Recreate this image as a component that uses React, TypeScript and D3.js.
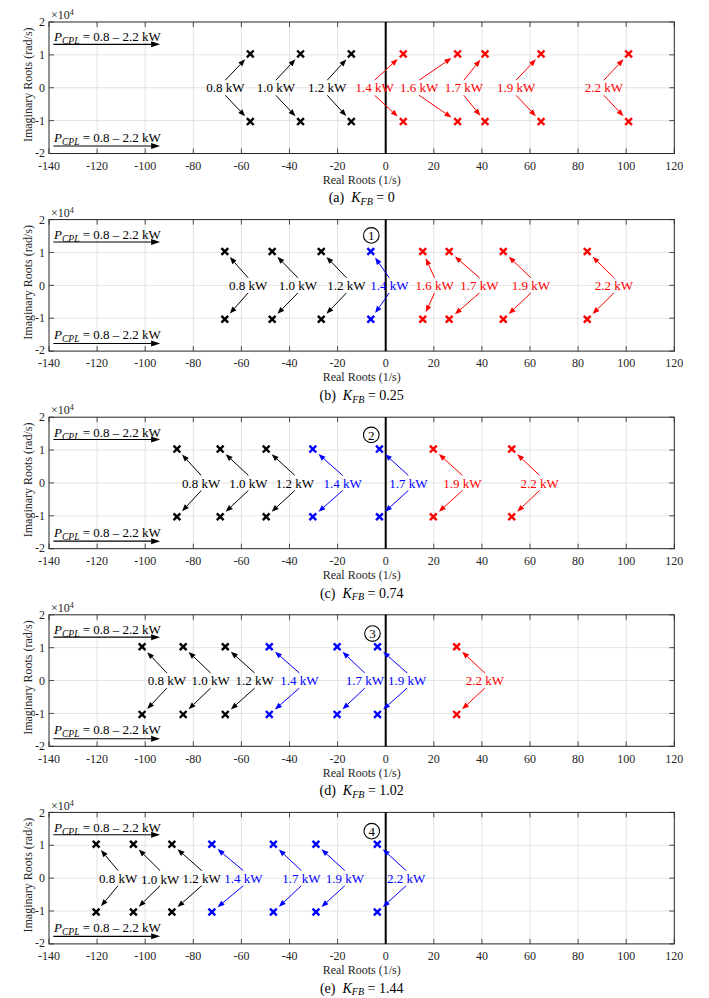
import React from 'react';
import * as d3 from 'd3';

// ---------- data ----------
const xTicks = [-140, -120, -100, -80, -60, -40, -20, 0, 20, 40, 60, 80, 100, 120];
const yTicks = [-2, -1, 0, 1, 2];
const imagPart = 1.03; // x 10^4 rad/s

const captionLetters = ['(a)', '(b)', '(c)', '(d)', '(e)'];
const kfbValues = ['0', '0.25', '0.74', '1.02', '1.44'];
const circledNums = ['', '1', '2', '3', '4'];
const circleX = [0, -6, -6, -5.5, -5.8];
const circleY = [0, 1.52, 1.46, 1.43, 1.43];

// status: 0 = stable, 1 = marginal, 2 = unstable
const powersA = ['0.8', '1.0', '1.2', '1.4', '1.6', '1.7', '1.9', '2.2'];
const realA = [-56.3, -35.4, -14.3, 7.3, 29.9, 41.3, 64.6, 101];
const labelA = [-66.7, -45.7, -24.3, -4.6, 13.9, 32.5, 54.2, 90.7];
const statusA = [0, 0, 0, 2, 2, 2, 2, 2];

const powersB = ['0.8', '1.0', '1.2', '1.4', '1.6', '1.7', '1.9', '2.2'];
const realB = [-66.9, -47.2, -26.8, -6.2, 15.4, 26.4, 48.9, 83.8];
const labelB = [-57.2, -36.5, -16.3, 1.5, 20.3, 39, 60.4, 94.9];
const statusB = [0, 0, 0, 1, 2, 2, 2, 2];

const powersC = ['0.8', '1.0', '1.2', '1.4', '1.7', '1.9', '2.2'];
const realC = [-86.8, -68.8, -49.7, -30.3, -2.6, 19.8, 52.4];
const labelC = [-76.7, -57.1, -37.8, -17.9, 9.4, 31.9, 64];
const statusC = [0, 0, 0, 1, 1, 2, 2];

const powersD = ['0.8', '1.0', '1.2', '1.4', '1.7', '1.9', '2.2'];
const realD = [-101.3, -84.2, -66.7, -48.4, -20.2, -3.4, 29.5];
const labelD = [-91, -72.8, -54.5, -35.9, -8.7, 8.9, 41.2];
const statusD = [0, 0, 0, 1, 1, 1, 2];

const powersE = ['0.8', '1.0', '1.2', '1.4', '1.7', '1.9', '2.2'];
const realE = [-120.4, -104.9, -88.9, -72.3, -46.7, -29, -3.5];
const labelE = [-111.3, -93.8, -76.5, -59.2, -35.1, -17, 8.5];
const statusE = [0, 0, 0, 1, 1, 1, 1];

const pcplText = '0.8 \u2013 2.2 kW';
const pcplArrowX = [-138.2, -93.8];
const pcplTextX = -137.9;
const pcplTopTextY = 1.55;
const pcplTopArrowY = 1.32;
const pcplBotTextY = -1.5;
const pcplBotArrowY = -1.77;

const panelData = [
  { powers: powersA, real: realA, label: labelA, status: statusA },
  { powers: powersB, real: realB, label: labelB, status: statusB },
  { powers: powersC, real: realC, label: labelC, status: statusC },
  { powers: powersD, real: realD, label: labelD, status: statusD },
  { powers: powersE, real: realE, label: labelE, status: statusE },
];

// ---------- styles ----------
const FONT = "'Liberation Serif', 'Times New Roman', serif";
const AXIS = '#262626';
const GRID = '#e0e0e0';
const statusColor = ['#000000', '#0000ff', '#ff0000'];

const W = 709;
const H = 998;
const LEFT = 49;
const RIGHT = 674.3;
const PANEL_H = 131.5;
const FIRST_TOP = 22;
const STEP = 197.6;

function arrowHead(x1: number, y1: number, x2: number, y2: number, len: number, half: number) {
  const dx = x2 - x1;
  const dy = y2 - y1;
  const L = Math.sqrt(dx * dx + dy * dy);
  const ux = dx / L;
  const uy = dy / L;
  const bx = x2 - ux * len;
  const by = y2 - uy * len;
  const px = -uy;
  const py = ux;
  return {
    base: [bx, by],
    points: `${x2},${y2} ${bx + px * half},${by + py * half} ${bx - px * half},${by - py * half}`,
  };
}

function Arrow({ x1, y1, x2, y2, color, len = 7, half = 2.7, width = 1 }: any) {
  const h = arrowHead(x1, y1, x2, y2, len, half);
  return (
    <g>
      <line x1={x1} y1={y1} x2={h.base[0]} y2={h.base[1]} stroke={color} strokeWidth={width} />
      <polygon points={h.points} fill={color} />
    </g>
  );
}

function Cross({ cx, cy, color }: any) {
  const s = 3.4;
  return (
    <path
      d={`M${cx - s},${cy - s}L${cx + s},${cy + s}M${cx - s},${cy + s}L${cx + s},${cy - s}`}
      stroke={color}
      strokeWidth={2.4}
      strokeLinecap="butt"
    />
  );
}

function Panel({ index }: { index: number }) {
  const top = FIRST_TOP + STEP * index;
  const bottom = top + PANEL_H;
  const x = d3.scaleLinear().domain([-140, 120]).range([LEFT, RIGHT]);
  const y = d3.scaleLinear().domain([-2, 2]).range([bottom, top]);
  const d = panelData[index];
  const tick = 5;
  const gap = 7.5;

  const pcpl = (ty: number, ay: number) => (
    <g>
      <text x={x(pcplTextX)} y={y(ty)} dy="0.35em" fontFamily={FONT} fontSize={13} fill="#000">
        <tspan fontStyle="italic">P</tspan>
        <tspan fontStyle="italic" fontSize={9.5} dy={3}>CPL</tspan>
        <tspan dy={-3}>{' = ' + pcplText}</tspan>
      </text>
      <Arrow x1={x(pcplArrowX[0])} y1={y(ay)} x2={x(pcplArrowX[1])} y2={y(ay)} color="#000" len={9} half={3} width={1.1} />
    </g>
  );

  return (
    <g>
      {/* grid */}
      {xTicks.slice(1, -1).map((t) => (
        <line key={'gx' + t} x1={x(t)} x2={x(t)} y1={top} y2={bottom} stroke={GRID} strokeWidth={0.9} />
      ))}
      {yTicks.slice(1, -1).map((t) => (
        <line key={'gy' + t} x1={LEFT} x2={RIGHT} y1={y(t)} y2={y(t)} stroke={GRID} strokeWidth={0.9} />
      ))}
      {/* ticks */}
      {xTicks.map((t) => (
        <g key={'tx' + t}>
          <line x1={x(t)} x2={x(t)} y1={bottom} y2={bottom - tick} stroke={AXIS} strokeWidth={0.8} />
          <line x1={x(t)} x2={x(t)} y1={top} y2={top + tick} stroke={AXIS} strokeWidth={0.8} />
          <text x={x(t)} y={bottom + 12} dy="0.35em" textAnchor="middle" fontFamily={FONT} fontSize={12} fill={AXIS}>
            {t}
          </text>
        </g>
      ))}
      {yTicks.map((t) => (
        <g key={'ty' + t}>
          <line x1={LEFT} x2={LEFT + tick} y1={y(t)} y2={y(t)} stroke={AXIS} strokeWidth={0.8} />
          <line x1={RIGHT} x2={RIGHT - tick} y1={y(t)} y2={y(t)} stroke={AXIS} strokeWidth={0.8} />
          <text x={LEFT - 4} y={y(t) - (t === -2 ? 1 : 0)} dy="0.35em" textAnchor="end" fontFamily={FONT} fontSize={12} fill={AXIS}>
            {t}
          </text>
        </g>
      ))}
      {/* box */}
      <rect x={LEFT} y={top} width={RIGHT - LEFT} height={PANEL_H} fill="none" stroke={AXIS} strokeWidth={1} />
      {/* x10^4 */}
      <text x={LEFT + 2} y={top - 7} dy="0.35em" fontFamily={FONT} fontSize={12} fill={AXIS}>
        {'\u00d710'}
        <tspan fontSize={8} dy={-4}>4</tspan>
      </text>
      {/* y label */}
      <text
        transform={`translate(${27.5},${(top + bottom) / 2 - 3}) rotate(-90)`}
        dy="0.35em"
        textAnchor="middle"
        fontFamily={FONT}
        fontSize={12}
        fill={AXIS}
      >
        Imaginary Roots (rad/s)
      </text>
      {/* x label */}
      <text x={(LEFT + RIGHT) / 2} y={bottom + 26} dy="0.35em" textAnchor="middle" fontFamily={FONT} fontSize={12} fill={AXIS}>
        Real Roots (1/s)
      </text>
      {/* caption */}
      <text x={(LEFT + RIGHT) / 2} y={bottom + 44} dy="0.35em" textAnchor="middle" fontFamily={FONT} fontSize={14} fill="#000">
        <tspan>{captionLetters[index] + '\u00a0\u00a0'}</tspan>
        <tspan fontStyle="italic">K</tspan>
        <tspan fontStyle="italic" fontSize={10} dy={2.5}>FB</tspan>
        <tspan dy={-2.5}>{' = ' + kfbValues[index]}</tspan>
      </text>
      {/* zero line */}
      <line x1={x(0)} x2={x(0)} y1={top} y2={bottom} stroke="#000" strokeWidth={2} />
      {/* P_CPL annotations */}
      {pcpl(pcplTopTextY, pcplTopArrowY)}
      {pcpl(pcplBotTextY, pcplBotArrowY)}
      {/* roots */}
      {d.powers.map((p, i) => {
        const c = statusColor[d.status[i]];
        const mx = x(d.real[i]);
        const lx = x(d.label[i]);
        return (
          <g key={'r' + i}>
            {[1, -1].map((s) => {
              const my = y(s * imagPart);
              const ty = y(s * 0.23);
              const dx = lx - mx;
              const dy = ty - my;
              const L = Math.sqrt(dx * dx + dy * dy);
              const hx = mx + (dx / L) * gap;
              const hy = my + (dy / L) * gap;
              return (
                <g key={s}>
                  <Arrow x1={lx} y1={ty} x2={hx} y2={hy} color={c} />
                  <Cross cx={mx} cy={my} color={c} />
                </g>
              );
            })}
            <text
              x={lx}
              y={y(index === 4 && i === 1 ? -0.05 : 0)}
              dy="0.35em"
              textAnchor="middle"
              fontFamily={FONT}
              fontSize={13}
              fill={c}
            >
              {p + ' kW'}
            </text>
          </g>
        );
      })}
      {/* circled number */}
      {circledNums[index] && (
        <g>
          <circle cx={x(circleX[index])} cy={y(circleY[index])} r={7.8} fill="#fff" stroke="#000" strokeWidth={1.1} />
          <text
            x={x(circleX[index])}
            y={y(circleY[index])}
            dy="0.35em"
            textAnchor="middle"
            fontFamily={FONT}
            fontSize={13}
            fill="#000"
          >
            {circledNums[index]}
          </text>
        </g>
      )}
    </g>
  );
}

export default function App() {
  return (
    <div style={{ position: 'absolute', left: 0, top: 0 }}>
      <svg width={W} height={H} viewBox={`0 0 ${W} ${H}`} style={{ display: 'block', background: '#fff' }}>
        <rect width={W} height={H} fill="#fff" />
        {[0, 1, 2, 3, 4].map((i) => (
          <Panel key={i} index={i} />
        ))}
      </svg>
    </div>
  );
}
